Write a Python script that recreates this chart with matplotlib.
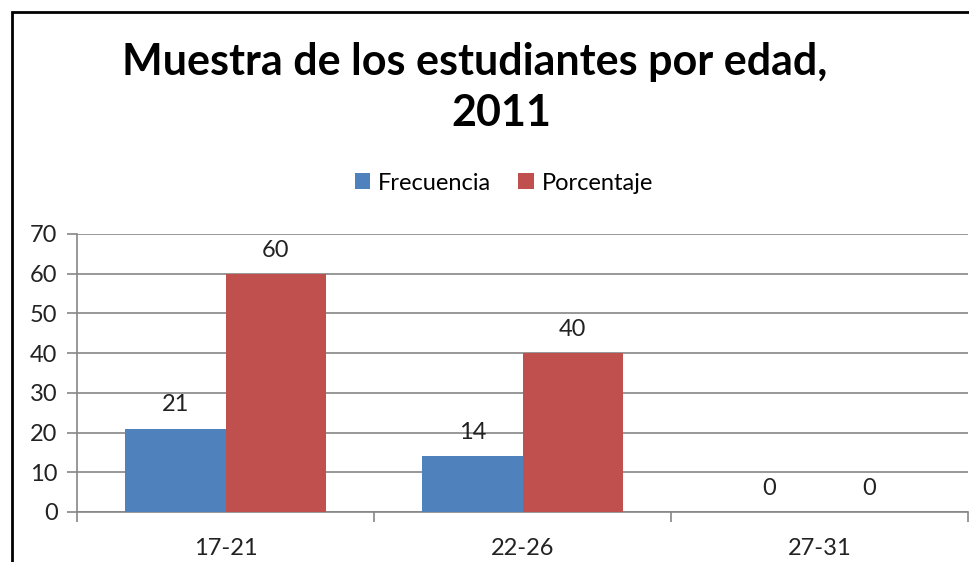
import matplotlib
matplotlib.use("Agg")
import matplotlib.pyplot as plt
import numpy as np
from matplotlib.patches import Rectangle

plt.rcParams["font.family"] = ["Lato", "DejaVu Sans"]

# datos
edades = ["17-21", "22-26", "27-31"]
frecuencia = [21, 14, 0]
porcentaje = [60, 40, 0]
yticks = [0, 10, 20, 30, 40, 50, 60, 70]

AZUL = "#4F81BD"
ROJO = "#C0504D"
GRIS = "#868686"
TXT = "#222222"
W, H = 969, 562

fig = plt.figure(figsize=(W / 100, H / 100), dpi=100)
fig.patch.set_facecolor("white")

# marco del gráfico (recortado a la derecha y abajo)
fig.patches.append(Rectangle((12 / W, -0.1), 1.2, 1 - 12 / H + 0.1,
                             transform=fig.transFigure, fill=False,
                             edgecolor="black", lw=2, zorder=10))

ax = fig.add_axes([77 / W, 1 - 512 / H, (968 - 77) / W, (512 - 234) / H])
x = np.arange(len(edades))
bw = 0.337
b1 = ax.bar(x - bw / 2, frecuencia, bw, color=AZUL, label="Frecuencia", zorder=3)
b2 = ax.bar(x + bw / 2, porcentaje, bw, color=ROJO, label="Porcentaje", zorder=3)

for bars in (b1, b2):
    for r in bars:
        ax.annotate(f"{int(r.get_height())}", (r.get_x() + r.get_width() / 2, r.get_height()),
                    xytext=(0, 17), textcoords="offset points", ha="center", va="center",
                    fontsize=17, color=TXT)

ax.set_xlim(-0.5, len(edades) - 0.5)
ax.set_ylim(0, 70)
ax.set_yticks(yticks)
ax.yaxis.grid(True, color=GRIS, lw=1.2, zorder=0)
ax.set_axisbelow(True)

ax.set_xticks(np.arange(-0.5, len(edades), 1.0))
ax.set_xticklabels([])
ax.set_xticks(x, minor=True)
ax.set_xticklabels(edades, minor=True)
ax.tick_params(axis="x", which="major", length=7, color=GRIS, width=1.2, direction="out")
ax.tick_params(axis="x", which="minor", length=0, pad=19, labelsize=17, labelcolor=TXT)
ax.tick_params(axis="y", length=7, color=GRIS, width=1.2, pad=7, labelsize=17, labelcolor=TXT)

for s in ("top", "right"):
    ax.spines[s].set_visible(False)
for s in ("left", "bottom"):
    ax.spines[s].set_color(GRIS)
    ax.spines[s].set_linewidth(1.2)

# título en dos líneas
fig.text(475 / W, 1 - 62 / H, "Muestra de los estudiantes por edad,",
         ha="center", va="center", fontsize=31, fontweight="bold")
fig.text(501 / W, 1 - 113 / H, "2011",
         ha="center", va="center", fontsize=31, fontweight="bold")

fig.legend(handles=[b1, b2], loc="center", bbox_to_anchor=(504 / W, 1 - 183 / H),
           ncol=2, frameon=False, fontsize=17, handlelength=0.65, handleheight=0.65,
           handletextpad=0.35, columnspacing=1.15)

fig.savefig("out.png", dpi=100)
